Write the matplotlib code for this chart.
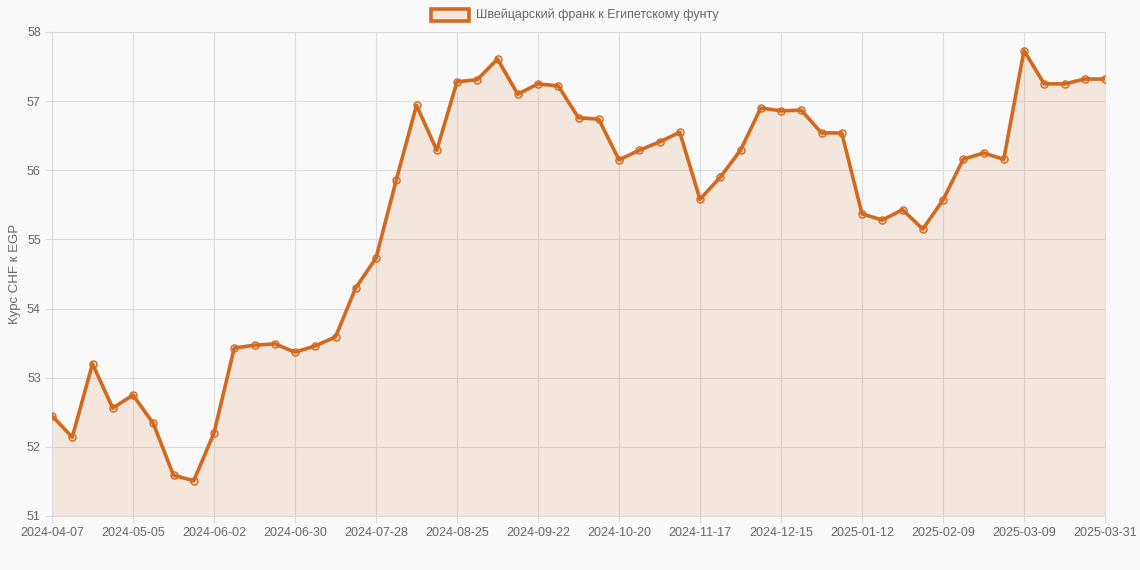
import matplotlib
matplotlib.use("Agg")
import matplotlib.pyplot as plt
from matplotlib.patches import Rectangle

# weekly CHF -> EGP rates
dates = [
    "2024-04-07", "2024-04-14", "2024-04-21", "2024-04-28", "2024-05-05", "2024-05-12",
    "2024-05-19", "2024-05-26", "2024-06-02", "2024-06-09", "2024-06-16", "2024-06-23",
    "2024-06-30", "2024-07-07", "2024-07-14", "2024-07-21", "2024-07-28", "2024-08-04",
    "2024-08-11", "2024-08-18", "2024-08-25", "2024-09-01", "2024-09-08", "2024-09-15",
    "2024-09-22", "2024-09-29", "2024-10-06", "2024-10-13", "2024-10-20", "2024-10-27",
    "2024-11-03", "2024-11-10", "2024-11-17", "2024-11-24", "2024-12-01", "2024-12-08",
    "2024-12-15", "2024-12-22", "2024-12-29", "2025-01-05", "2025-01-12", "2025-01-19",
    "2025-01-26", "2025-02-02", "2025-02-09", "2025-02-16", "2025-02-23", "2025-03-02",
    "2025-03-09", "2025-03-16", "2025-03-23", "2025-03-30", "2025-03-31",
]
rates = [
    52.45, 52.14, 53.20, 52.56, 52.75, 52.34, 51.59, 51.51, 52.20, 53.43,
    53.47, 53.49, 53.37, 53.46, 53.59, 54.30, 54.73, 55.86, 56.94, 56.29,
    57.28, 57.31, 57.61, 57.10, 57.25, 57.22, 56.76, 56.74, 56.15, 56.29,
    56.41, 56.55, 55.58, 55.90, 56.29, 56.90, 56.86, 56.87, 56.54, 56.54,
    55.37, 55.28, 55.43, 55.15, 55.57, 56.16, 56.25, 56.16, 57.73, 57.25,
    57.25, 57.32, 57.32,
]
label = "Швейцарский франк к Египетскому фунту"

LINE = "#d2691e"
FILL = (210 / 255, 105 / 255, 30 / 255, 0.13)
GRID = "#dcdcdc"
TXT = "#666666"
BG = "#f9f9f9"

plt.rcParams["font.family"] = ["Liberation Sans", "DejaVu Sans"]

fig = plt.figure(figsize=(11.4, 5.7), dpi=100, facecolor=BG)
ax = fig.add_axes([52 / 1140, 1 - 516 / 570, (1105 - 52) / 1140, (516 - 32) / 570])
ax.set_facecolor(BG)

x = list(range(len(rates)))
ax.fill_between(x, rates, 51, color=FILL, linewidth=0)
ax.plot(x, rates, color=LINE, linewidth=2.6, zorder=3)
ax.scatter(x, rates, s=26, facecolor=FILL, edgecolor=LINE, linewidth=1.0, zorder=4)

ax.set_xlim(0, len(rates) - 1)
ax.set_ylim(51, 58)
ticks = list(range(0, len(rates) - 1, 4)) + [len(rates) - 1]
ax.set_xticks(ticks)
ax.set_xticklabels([dates[i] for i in ticks])
ax.set_yticks(range(51, 59))

ax.grid(True, color=GRID, linewidth=0.8)
ax.set_axisbelow(True)
for s in ax.spines.values():
    s.set_color(GRID)
    s.set_linewidth(0.8)
ax.tick_params(colors=TXT, labelsize=9, length=5, width=0.8, pad=3)
ax.tick_params(axis="x", color=GRID)
ax.tick_params(axis="y", color=GRID)
ax.set_ylabel("Курс CHF к EGP", color=TXT, fontsize=9.5, labelpad=4)

# legend in Chart.js style
fig.patches.append(Rectangle((431 / 1140, 1 - 21 / 570), 38 / 1140, 12 / 570,
                             transform=fig.transFigure, facecolor=FILL,
                             edgecolor=LINE, linewidth=2.6))
fig.text(476 / 1140, 1 - 15 / 570, label, color=TXT, fontsize=9, va="center", ha="left")

fig.savefig("out.png", dpi=100, facecolor=BG)
